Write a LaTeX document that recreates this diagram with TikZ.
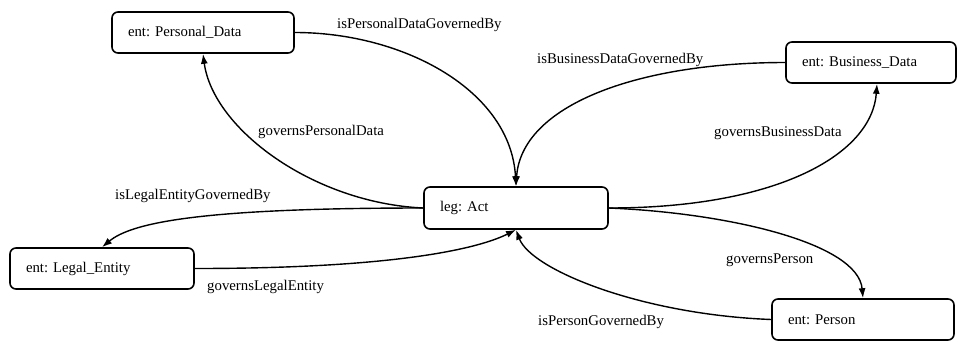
\documentclass[tikz,border=0pt]{standalone}
\usepackage{fontspec}
\setmainfont{Liberation Serif}
\usetikzlibrary{arrows.meta,positioning}
\frenchspacing

\tikzset{
  entity/.style={draw, line width=1.6pt, rounded corners=6pt, minimum height=41pt,
    inner xsep=16pt, inner ysep=0pt, align=left, font=\fontsize{14.8pt}{17pt}\selectfont},
  rel/.style={line width=1.4pt, -{Latex[length=10pt,width=7pt]}},
  lbl/.style={anchor=base west, inner sep=0pt, font=\fontsize{14.8pt}{17pt}\selectfont}
}

\begin{document}
\begin{tikzpicture}[x=1pt,y=-1pt]
  \useasboundingbox (0,0) rectangle (958,341);

  % entities
  \node[entity, text width=150pt] (pd)  at (203,32.5)  {ent: Personal\_Data};
  \node[entity, text width=138pt] (bd)  at (871,62.5)  {ent: Business\_Data};
  \node[entity, text width=152pt, minimum height=42pt] (act) at (516,208) {leg: Act};
  \node[entity, text width=152pt] (le)  at (102,268.5) {ent: Legal\_Entity};
  \node[entity, text width=150pt] (per) at (863,319.5) {ent: Person};

  \coordinate (bdin) at ([xshift=6pt]bd.south);

  % relations
  \draw[rel] (pd.east)  .. controls +(110,0)  and +(-5,-95) .. (act.north);
  \draw[rel] (act.west) .. controls +(-110,-5) and +(10,75) .. (pd.south);
  \draw[rel] (bd.west)  .. controls +(-150,0) and +(5,-80)  .. (act.north);
  \draw[rel] (act.east) .. controls +(170,0)  and +(-5,70)  .. (bdin);
  \draw[rel] (act.west) .. controls +(-220,0) and +(30,-25) .. (le.north);
  \draw[rel] (le.east)  .. controls +(220,0)  and +(-30,15) .. (act.south);
  \draw[rel] (act.east) .. controls +(120,5)  and +(-5,-55) .. (per.north);
  \draw[rel] (per.west) .. controls +(-130,-5) and +(15,40) .. (act.south);

  % relation labels
  \node[lbl] (l1) at (337,28)  {isPersonalDataGovernedBy};
  \node[lbl] (l2) at (258,135) {governsPersonalData};
  \node[lbl] (l3) at (537,63)  {isBusinessDataGovernedBy};
  \node[lbl] (l4) at (714,136) {governsBusinessData};
  \node[lbl] (l5) at (115,199) {isLegalEntityGovernedBy};
  \node[lbl] (l6) at (207,290) {governsLegalEntity};
  \node[lbl] (l7) at (726,263) {governsPerson};
  \node[lbl] (l8) at (538,325) {isPersonGovernedBy};
\end{tikzpicture}
\end{document}
